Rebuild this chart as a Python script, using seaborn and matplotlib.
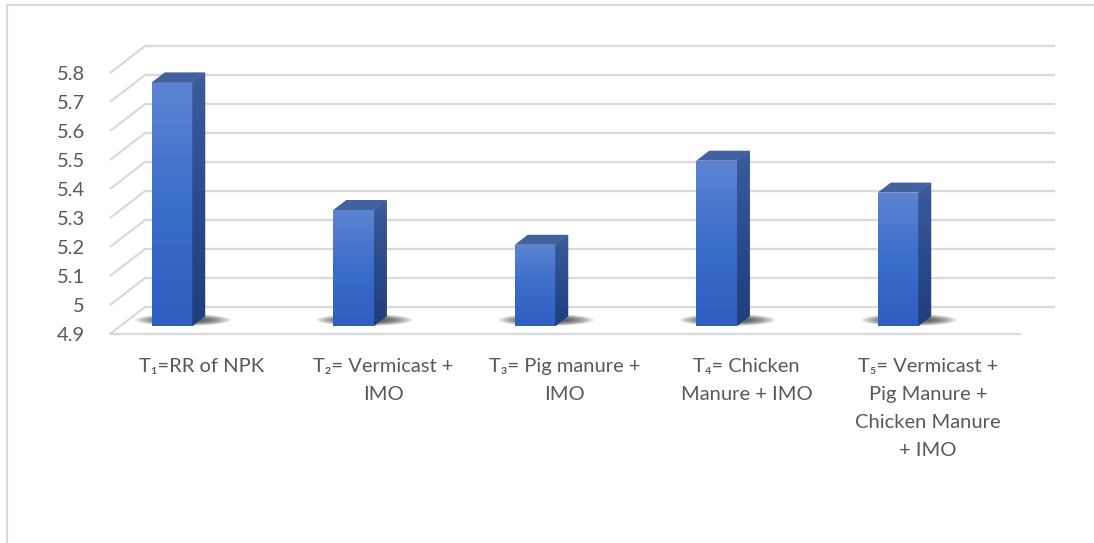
import numpy as np
import matplotlib
matplotlib.use("Agg")
import matplotlib.pyplot as plt
import seaborn as sns
from matplotlib.patches import Polygon, Ellipse
from matplotlib.lines import Line2D
from matplotlib.colors import LinearSegmentedColormap

# ---------------- data ----------------
categories = [
    "T\u2081=RR of NPK",
    "T\u2082= Vermicast +\nIMO",
    "T\u2083= Pig manure +\nIMO",
    "T\u2084= Chicken\nManure + IMO",
    "T\u2085= Vermicast +\nPig Manure +\nChicken Manure\n+ IMO",
]
values = [5.74, 5.30, 5.18, 5.47, 5.36]
yticks = [4.9, 5.0, 5.1, 5.2, 5.3, 5.4, 5.5, 5.6, 5.7, 5.8]
ytick_labels = ["4.9", "5", "5.1", "5.2", "5.3", "5.4", "5.5", "5.6", "5.7", "5.8"]
baseline = 4.9

# ---------------- style ----------------
sns.set_theme(style="white")
plt.rcParams["font.family"] = ["Lato", "DejaVu Sans"]
TXT = "#595959"
GRID = "#D9D9D9"

W, H = 1094, 543
fig = plt.figure(figsize=(W / 100, H / 100), dpi=100)

# geometry (pixels)
CAT_PX = 181.5      # px per category
UNIT_PX = 290.0     # px per value unit
X0_PX = 172.0       # px of category 0 (bar front centre)
BASE_IMG = 326.0    # image y of baseline at bar-front plane
AX_L, AX_R, AX_T, AX_B = 100, 1060, 30, 345

ax = fig.add_axes([AX_L / W, (H - AX_B) / H, (AX_R - AX_L) / W, (AX_B - AX_T) / H])
xlim = ((AX_L - X0_PX) / CAT_PX, (AX_R - X0_PX) / CAT_PX)
ylim = (baseline - (AX_B - BASE_IMG) / UNIT_PX, baseline + (BASE_IMG - AX_T) / UNIT_PX)

KX = 1.3 / CAT_PX   # x shift per depth px
KY = 1.0 / UNIT_PX  # y shift per depth px
Z_BAR = 8.0         # depth of bar front plane
Z_BACK = 27.0       # depth of back wall


def proj(x, v, z):
    return x + KX * (z - Z_BAR), v + KY * (z - Z_BAR)


# floor / wall extents in world x
xw_left = (110 - X0_PX + KX * CAT_PX * Z_BAR) / CAT_PX
xw_right = (1020 - X0_PX + KX * CAT_PX * Z_BAR) / CAT_PX

# gridlines: back wall + left wall diagonals
for t in yticks:
    xa, ya = proj(xw_left, t, 0)
    xb, yb = proj(xw_left, t, Z_BACK)
    xc, yc = proj(xw_right, t, Z_BACK)
    ax.plot([xa, xb, xc], [ya, yb, yc], color=GRID, lw=1.6, zorder=1,
            solid_capstyle="butt", solid_joinstyle="miter")
# floor front line
xa, ya = proj(xw_left, baseline, 0)
xb, yb = proj(xw_right, baseline, 0)
ax.plot([xa, xb], [ya, yb], color=GRID, lw=1.6, zorder=1)

# bars
df_x = list(range(len(categories)))
sns.barplot(x=df_x, y=values, ax=ax, width=40.5 / CAT_PX, color="#3A6CCB",
            linewidth=0, zorder=4)

front_cmap = LinearSegmentedColormap.from_list("front", ["#5D84D2", "#3B6DCB", "#2E5EC0"])
side_cmap = LinearSegmentedColormap.from_list("side", ["#3D5C9C", "#2A4B8D", "#1F3E7C"])
grad = np.linspace(0, 1, 256).reshape(-1, 1)

BD_X = 13 / CAT_PX
BD_Y = 10 / UNIT_PX

for p, v in zip(ax.patches, values):
    p.set_y(baseline)
    p.set_height(v - baseline)
    x0, w = p.get_x(), p.get_width()
    cx = x0 + w / 2
    # shadow on the floor
    for k in range(10):
        ew = (96 - k * 5.5) / CAT_PX
        eh = (12 - k * 0.8) / UNIT_PX
        e = Ellipse((cx + 11 / CAT_PX, baseline + 6 / UNIT_PX), ew, eh,
                    facecolor="black", edgecolor="none", alpha=0.085, zorder=2)
        ax.add_patch(e)
    # front face gradient
    im = ax.imshow(grad, cmap=front_cmap, aspect="auto",
                   extent=(x0, x0 + w, baseline, v), origin="upper", zorder=5)
    im.set_clip_path(p)
    # side face
    side = Polygon([(x0 + w, baseline), (x0 + w, v), (x0 + w + BD_X, v + BD_Y),
                    (x0 + w + BD_X, baseline + BD_Y)], closed=True,
                   facecolor="#2A4B8D", edgecolor="none", zorder=4)
    ax.add_patch(side)
    ims = ax.imshow(grad, cmap=side_cmap, aspect="auto",
                    extent=(x0 + w, x0 + w + BD_X, baseline, v + BD_Y),
                    origin="upper", zorder=5)
    ims.set_clip_path(side)
    # top face
    top = Polygon([(x0, v), (x0 + w, v), (x0 + w + BD_X, v + BD_Y), (x0 + BD_X, v + BD_Y)],
                  closed=True, facecolor="#41619F", edgecolor="none", zorder=6)
    ax.add_patch(top)

ax.set_xlim(*xlim)
ax.set_ylim(*ylim)

# y tick labels at front-left edge
ax.set_yticks([t - KY * Z_BAR for t in yticks], labels=ytick_labels)
ax.tick_params(axis="y", length=0, pad=11, labelsize=14.5, labelcolor=TXT)
ax.set_xticks([])
for s in ax.spines.values():
    s.set_visible(False)
ax.set_facecolor("none")

# category labels
trans = matplotlib.transforms.blended_transform_factory(ax.transData, fig.transFigure)
for i, lab in enumerate(categories):
    ax.text(i + 30 / CAT_PX, (H - 358) / H, lab, transform=trans, ha="center", va="top",
            fontsize=14.5, color=TXT, linespacing=1.78, multialignment="center")

# outer frame
fig.add_artist(Line2D([7 / W, 7 / W], [0, (H - 5) / H], color=GRID, lw=1.6))
fig.add_artist(Line2D([7 / W, 1], [(H - 5) / H, (H - 5) / H], color=GRID, lw=1.6))

fig.savefig("out.png", dpi=100, facecolor="white")
